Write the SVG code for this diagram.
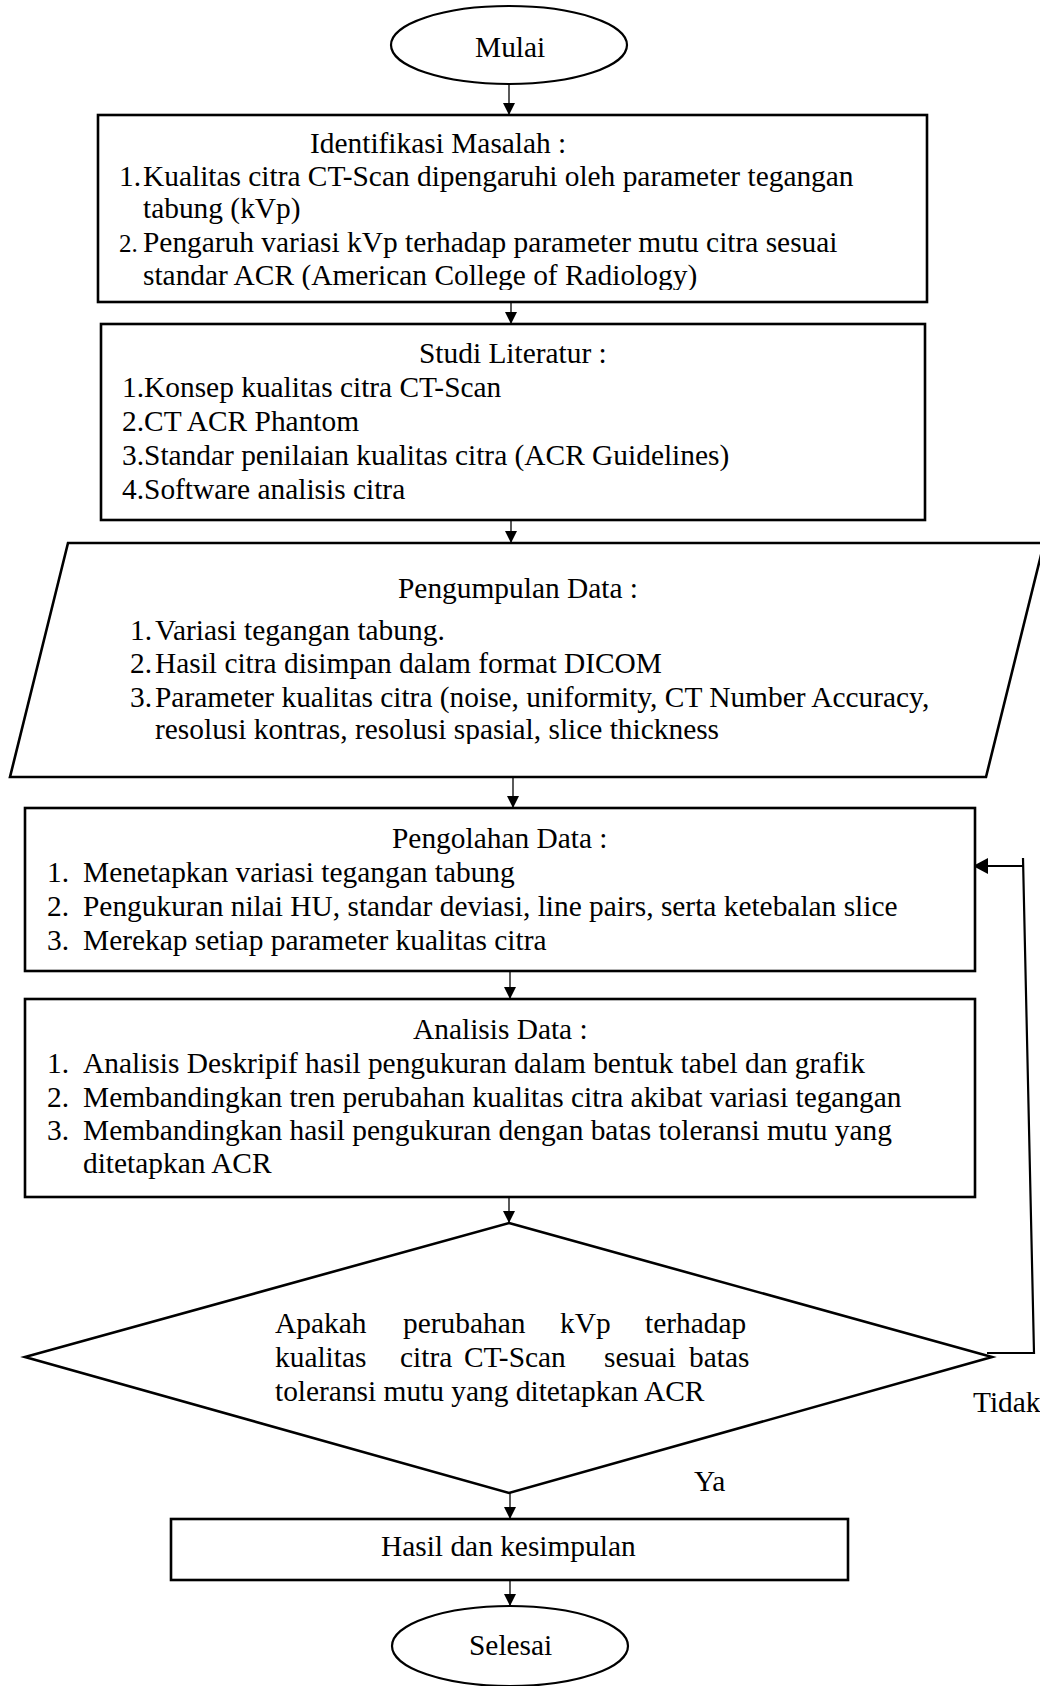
<svg xmlns="http://www.w3.org/2000/svg" width="1040" height="1686" viewBox="0 0 1040 1686">
<style>
  text { font-family: "Liberation Serif", "Times New Roman", serif; font-size: 29.4px; fill: #000; }
  .box { fill: #fff; stroke: #000; stroke-width: 2.6; }
  .term { fill: #fff; stroke: #000; stroke-width: 2.2; }
  .conn { fill: none; stroke: #000; stroke-width: 1.3; }
  .fb { fill: none; stroke: #000; stroke-width: 2.2; }
</style>
<defs>
  <marker id="arr" markerUnits="userSpaceOnUse" markerWidth="12" markerHeight="12" refX="12" refY="6" orient="auto">
    <path d="M0,0 L12,6 L0,12 z" fill="#000"/>
  </marker>
  <marker id="arr2" markerUnits="userSpaceOnUse" markerWidth="16" markerHeight="16" refX="15" refY="8" orient="auto">
    <path d="M0,0 L15,8 L0,16 z" fill="#000"/>
  </marker>
  <clipPath id="clip1"><rect x="90" y="110" width="840" height="180"/></clipPath>
  <clipPath id="clip3"><rect x="0" y="540" width="1040" height="204"/></clipPath>
</defs>
<rect width="1040" height="1686" fill="#fff"/>

<g id="connectors">
  <line class="conn" x1="509" y1="84" x2="509" y2="115" marker-end="url(#arr)"/>
  <line class="conn" x1="511" y1="297" x2="511" y2="324" marker-end="url(#arr)"/>
  <line class="conn" x1="511" y1="514" x2="511" y2="543" marker-end="url(#arr)"/>
  <line class="conn" x1="513" y1="778" x2="513" y2="808" marker-end="url(#arr)"/>
  <line class="conn" x1="510" y1="967" x2="510" y2="999" marker-end="url(#arr)"/>
  <line class="conn" x1="509" y1="1193" x2="509" y2="1223" marker-end="url(#arr)"/>
  <line class="conn" x1="510" y1="1493" x2="510" y2="1519" marker-end="url(#arr)"/>
  <line class="conn" x1="510" y1="1580" x2="510" y2="1606" marker-end="url(#arr)"/>
  <path class="fb" d="M987,1353 L1034,1353 L1023,858 M1023,866 L973,866" marker-end="url(#arr2)"/>
</g>

<g id="mulai">
  <ellipse class="term" cx="509" cy="45" rx="118" ry="39"/>
  <text x="475" y="57">Mulai</text>
</g>

<g id="identifikasi">
  <rect class="box" x="98" y="115" width="829" height="187"/>
  <g clip-path="url(#clip1)">
    <text x="310" y="153">Identifikasi Masalah :</text>
    <text x="119" y="186">1.</text>
    <text x="143" y="186">Kualitas citra CT-Scan dipengaruhi oleh parameter tegangan</text>
    <text x="143" y="218">tabung (kVp)</text>
    <text x="119" y="252" style="font-size:25px">2.</text>
    <text x="143" y="252">Pengaruh variasi kVp terhadap parameter mutu citra sesuai</text>
    <text x="143" y="285">standar ACR (American College of Radiology)</text>
  </g>
</g>

<g id="studi">
  <rect class="box" x="101" y="324" width="824" height="196"/>
  <text x="419" y="363">Studi Literatur :</text>
  <text x="122" y="397">1.Konsep kualitas citra CT-Scan</text>
  <text x="122" y="431">2.CT ACR Phantom</text>
  <text x="122" y="465">3.Standar penilaian kualitas citra (ACR Guidelines)</text>
  <text x="122" y="499">4.Software analisis citra</text>
</g>

<g id="pengumpulan">
  <polygon class="box" points="68,543 1044,543 986,777 10,777"/>
  <g clip-path="url(#clip3)">
    <text x="398" y="598">Pengumpulan Data :</text>
    <text x="130" y="640">1.</text><text x="155" y="640">Variasi tegangan tabung.</text>
    <text x="130" y="673">2.</text><text x="155" y="673">Hasil citra disimpan dalam format DICOM</text>
    <text x="130" y="707">3.</text><text x="155" y="707">Parameter kualitas citra (noise, uniformity, CT Number Accuracy,</text>
    <text x="155" y="739">resolusi kontras, resolusi spasial, slice thickness</text>
  </g>
</g>

<g id="pengolahan">
  <rect class="box" x="25" y="808" width="950" height="163"/>
  <text x="392" y="848">Pengolahan Data :</text>
  <text x="47" y="882">1.</text><text x="83" y="882">Menetapkan variasi tegangan tabung</text>
  <text x="47" y="916">2.</text><text x="83" y="916">Pengukuran nilai HU, standar deviasi, line pairs, serta ketebalan slice</text>
  <text x="47" y="950">3.</text><text x="83" y="950">Merekap setiap parameter kualitas citra</text>
</g>

<g id="analisis">
  <rect class="box" x="25" y="999" width="950" height="198"/>
  <text x="413" y="1039">Analisis Data :</text>
  <text x="47" y="1073">1.</text><text x="83" y="1073">Analisis Deskripif hasil pengukuran dalam bentuk tabel dan grafik</text>
  <text x="47" y="1107">2.</text><text x="83" y="1107">Membandingkan tren perubahan kualitas citra akibat variasi tegangan</text>
  <text x="47" y="1140">3.</text><text x="83" y="1140">Membandingkan hasil pengukuran dengan batas toleransi mutu yang</text>
  <text x="83" y="1173">ditetapkan ACR</text>
</g>

<g id="keputusan">
  <polygon class="box" points="509,1223 992,1357 509,1493 25,1357"/>
  <text y="1333"><tspan x="275">Apakah</tspan><tspan x="403">perubahan</tspan><tspan x="560">kVp</tspan><tspan x="645">terhadap</tspan></text>
  <text y="1367"><tspan x="275">kualitas</tspan><tspan x="400">citra</tspan><tspan x="464">CT-Scan</tspan><tspan x="604">sesuai</tspan><tspan x="689">batas</tspan></text>
  <text x="275" y="1401">toleransi mutu yang ditetapkan ACR</text>
</g>

<g id="label-tidak"><text x="973" y="1412">Tidak</text></g>
<g id="label-ya"><text x="694" y="1491">Ya</text></g>

<g id="hasil">
  <rect class="box" x="171" y="1519" width="677" height="61"/>
  <text x="381" y="1556">Hasil dan kesimpulan</text>
</g>

<g id="selesai">
  <ellipse class="term" cx="510" cy="1646" rx="118" ry="40"/>
  <text x="469" y="1655">Selesai</text>
</g>
</svg>
